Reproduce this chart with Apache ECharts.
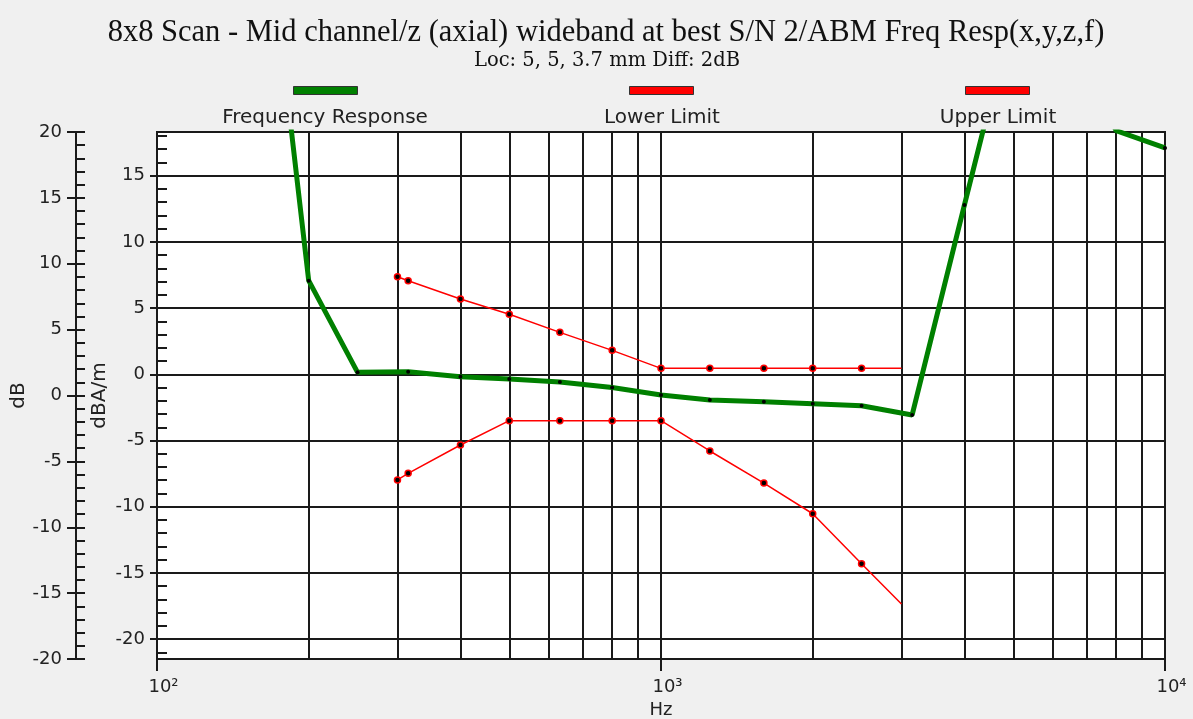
<!DOCTYPE html>
<html>
<head>
<meta charset="utf-8">
<title>Freq Resp</title>
<script src="https://cdn.jsdelivr.net/npm/echarts@6/dist/echarts.min.js"></script>
<style>
    html, body { margin: 0; padding: 0; background: #f0f0f0; }
    #main { width: 1193px; height: 719px; }
</style>
</head>
<body>
<div id="main"></div>
<script>
// data: [Hz, dBA/m]
var freqResp = [
    [160, 39], [200, 7.07], [250, 0.15], [315, 0.2], [400, -0.18], [500, -0.36],
    [630, -0.58], [800, -1.0], [1000, -1.56], [1250, -1.94], [1600, -2.07],
    [2000, -2.22], [2500, -2.37], [3150, -3.07], [4000, 12.79], [5000, 27.5],
    [6300, 26], [8000, 18.4], [10000, 17.1]
];
var lowerLimit = [
    [300, -7.98], [315, -7.48], [400, -5.34], [500, -3.5], [630, -3.5], [800, -3.5],
    [1000, -3.5], [1250, -5.79], [1600, -8.21], [2000, -10.53], [2500, -14.3], [3000, -17.35]
];
var upperLimit = [
    [300, 7.37], [315, 7.07], [400, 5.69], [500, 4.53], [630, 3.17], [800, 1.81],
    [1000, 0.45], [1250, 0.45], [1600, 0.45], [2000, 0.45], [2500, 0.45], [3000, 0.45]
];
var seriesNames = ['Frequency Response', 'Lower Limit', 'Upper Limit'];

// axes
var dbRange = [-20, 20];
var dbaRange = [-21.5, 18.3];
var dbaMajor = [-20, -15, -10, -5, 0, 5, 10, 15];
var dbaMinor = [];
for (var i = -21; i <= 18; i++) { if (i % 5 !== 0) dbaMinor.push(i); }
var gridFreqs = [200, 300, 400, 500, 600, 700, 800, 900, 2000, 3000, 4000, 5000, 6000, 7000, 8000, 9000];
var sup = {2: '\u00b2', 3: '\u00b3', 4: '\u2074'};

var titleText = '8x8 Scan - Mid channel/z (axial) wideband at best S/N 2/ABM Freq Resp(x,y,z,f)';
var subText = 'Loc: 5, 5, 3.7 mm Diff: 2dB';

var ctx = document.createElement('canvas').getContext('2d');
function textWidth(txt, font) {
    ctx.font = font;
    return ctx.measureText(txt).width;
}
// font size that makes txt about `target` px wide
function fitSize(txt, family, target) {
    return Math.round(20 * target / textWidth(txt, '20px "' + family + '"') * 2) / 2;
}

var sansFont = 'DejaVu Sans';
var titleFont = 'Liberation Serif';
var subFont = 'DejaVu Serif';
var ink = '#1a1a1a';
var labelColor = '#222';
var legendSize = 20;

var myChart = echarts.init(document.getElementById('main'));

// legends: icon above, text below, each centred on its own x
var legendCenters = [325, 661, 997];
var legendColors = ['#008000', '#ff0000', '#ff0000'];
var legends = [];
seriesNames.forEach(function (name, k) {
    legends.push({
        selectedMode: false,
        left: legendCenters[k] - 32,
        top: 86,
        padding: 0,
        icon: 'rect',
        itemWidth: 64,
        itemHeight: 8,
        formatter: function () { return ''; },
        textStyle: {fontSize: 1},
        data: [{name: name, itemStyle: {color: legendColors[k], borderColor: '#333', borderWidth: 1}}]
    });
    var w = textWidth(name, legendSize + 'px "' + sansFont + '"');
    legends.push({
        selectedMode: false,
        left: legendCenters[k] - w / 2 - 5,
        top: 108,
        padding: 0,
        icon: 'rect',
        itemWidth: 0,
        itemHeight: 0,
        data: [{name: name, itemStyle: {opacity: 0}}],
        textStyle: {fontFamily: sansFont, fontSize: legendSize, color: labelColor}
    });
});

function dotted(arr, lastBare) {
    return arr.map(function (p, j) {
        if (lastBare && j === arr.length - 1) return {value: p, symbol: 'none'};
        return p;
    });
}

var titleSize = fitSize(titleText, titleFont, 995);
var subSize = fitSize(subText, subFont, 264);
var titleW = textWidth(titleText, titleSize + 'px "' + titleFont + '"');
var subW = textWidth(subText, subSize + 'px "' + subFont + '"');

var option = {
    backgroundColor: '#f0f0f0',
    animation: false,
    textStyle: {fontFamily: sansFont},
    title: [{
        text: titleText,
        left: 606 - titleW / 2,
        top: 34 - titleSize * 0.55,
        padding: 0,
        textStyle: {fontFamily: titleFont, fontSize: titleSize, fontWeight: 'normal', color: '#111'}
    }, {
        text: subText,
        left: 607 - subW / 2,
        top: 63 - subSize * 0.6,
        padding: 0,
        textStyle: {fontFamily: subFont, fontSize: subSize, fontWeight: 'normal', color: '#111'}
    }],
    legend: legends,
    grid: {
        left: 157, right: 28, top: 132, bottom: 60,
        outerBoundsMode: 'none',
        containLabel: false,
        show: true,
        backgroundColor: '#fff',
        borderColor: ink,
        borderWidth: 2
    },
    xAxis: [{
        type: 'log',
        logBase: 10,
        min: 100,
        max: 10000,
        axisLine: {onZero: false, lineStyle: {color: ink, width: 2}},
        axisTick: {show: true, length: 12, lineStyle: {color: ink, width: 2}},
        axisLabel: {
            fontSize: 18,
            color: labelColor,
            margin: 19,
            padding: [0, 0, 0, 13],
            formatter: function (v) {
                var e = Math.round(Math.log(v) / Math.LN10);
                return '10' + (sup[e] || e);
            }
        },
        splitLine: {show: true, lineStyle: {color: ink, width: 2}},
        name: 'Hz',
        nameLocation: 'middle',
        nameGap: 42,
        nameMoveOverlap: false,
        nameTextStyle: {fontSize: 18, color: labelColor}
    }],
    yAxis: [{
        // outer dB scale
        type: 'value',
        position: 'left',
        offset: 81,
        min: dbRange[0],
        max: dbRange[1],
        interval: 5,
        axisLine: {show: true, onZero: false, lineStyle: {color: ink, width: 2}},
        axisTick: {show: true, length: 9, lineStyle: {color: ink, width: 2}},
        axisLabel: {fontSize: 18, color: labelColor, margin: 14},
        splitLine: {show: false},
        name: 'dB',
        nameLocation: 'middle',
        nameGap: 47,
        nameMoveOverlap: false,
        nameTextStyle: {fontSize: 20, color: labelColor}
    }, {
        // inner dBA/m scale, carries the data
        type: 'value',
        position: 'left',
        offset: 0,
        min: dbaRange[0],
        max: dbaRange[1],
        axisLine: {show: true, onZero: false, lineStyle: {color: ink, width: 2}},
        axisTick: {show: true, length: 7, customValues: dbaMajor, lineStyle: {color: ink, width: 2}},
        axisLabel: {fontSize: 18, color: labelColor, margin: 12, customValues: dbaMajor},
        splitLine: {show: true, lineStyle: {color: ink, width: 2}},
        name: 'dBA/m',
        nameLocation: 'middle',
        nameGap: 47,
        nameMoveOverlap: false,
        nameTextStyle: {fontSize: 20, color: labelColor}
    }, {
        // dB minor ticks, inside
        type: 'value',
        position: 'left',
        offset: 81,
        min: dbRange[0],
        max: dbRange[1],
        interval: 1,
        axisLine: {show: false, onZero: false},
        axisTick: {show: true, inside: true, length: 9, lineStyle: {color: ink, width: 2}},
        axisLabel: {show: false},
        splitLine: {show: false}
    }, {
        // dBA/m minor ticks, inside
        type: 'value',
        position: 'left',
        offset: 0,
        min: dbaRange[0],
        max: dbaRange[1],
        axisLine: {show: false, onZero: false},
        axisTick: {show: true, inside: true, length: 10, customValues: dbaMinor, lineStyle: {color: ink, width: 2}},
        axisLabel: {show: false},
        splitLine: {show: false}
    }],
    series: [{
        // minor frequency grid lines
        type: 'line',
        yAxisIndex: 1,
        data: [],
        z: 1,
        silent: true,
        markLine: {
            silent: true,
            z: 1,
            symbol: ['none', 'none'],
            label: {show: false},
            lineStyle: {color: ink, width: 2, type: 'solid'},
            data: gridFreqs.map(function (f) { return {xAxis: f}; })
        }
    }, {
        name: seriesNames[0],
        type: 'line',
        yAxisIndex: 1,
        z: 3,
        symbol: 'circle',
        symbolSize: 4,
        itemStyle: {color: '#000'},
        lineStyle: {color: '#008000', width: 5},
        data: dotted(freqResp, false)
    }, {
        name: seriesNames[1],
        type: 'line',
        yAxisIndex: 1,
        z: 4,
        symbol: 'circle',
        symbolSize: 6,
        itemStyle: {color: '#000', borderColor: '#ff0000', borderWidth: 1.5},
        lineStyle: {color: '#ff0000', width: 1.5},
        data: dotted(lowerLimit, true)
    }, {
        name: seriesNames[2],
        type: 'line',
        yAxisIndex: 1,
        z: 4,
        symbol: 'circle',
        symbolSize: 6,
        itemStyle: {color: '#000', borderColor: '#ff0000', borderWidth: 1.5},
        lineStyle: {color: '#ff0000', width: 1.5},
        data: dotted(upperLimit, true)
    }]
};

myChart.setOption(option);
</script>
</body>
</html>
